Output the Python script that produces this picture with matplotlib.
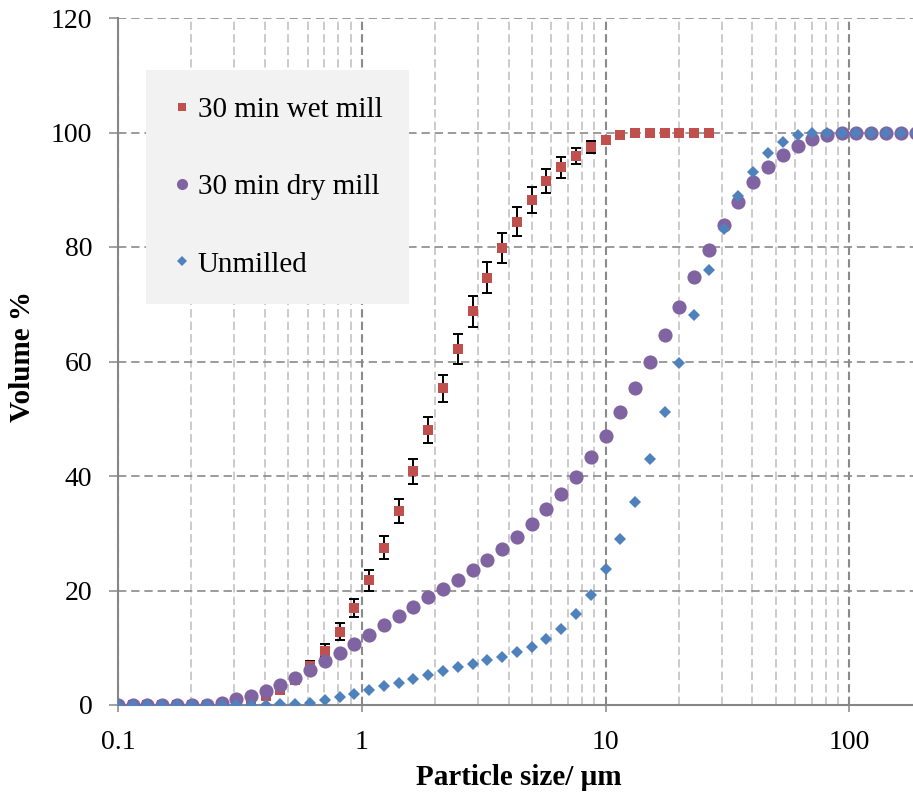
import matplotlib
matplotlib.use("Agg")
import matplotlib.pyplot as plt
from matplotlib.lines import Line2D

plt.rcParams['font.family'] = ['Liberation Serif', 'DejaVu Serif']
plt.rcParams['lines.scale_dashes'] = False

# Particle size bins (µm)
sizes = [0.1, 0.115, 0.132, 0.152, 0.175, 0.201, 0.231, 0.266, 0.305, 0.351,
         0.404, 0.464, 0.534, 0.614, 0.705, 0.811, 0.933, 1.07, 1.23, 1.42,
         1.63, 1.87, 2.15, 2.48, 2.85, 3.27, 3.76, 4.33, 4.98, 5.72,
         6.58, 7.56, 8.70, 10.0, 11.5, 13.2, 15.2, 17.5, 20.1, 23.1,
         26.6, 30.5, 35.1, 40.4, 46.4, 53.4, 61.4, 70.5, 81.1, 93.3,
         107, 123, 142, 163, 187]

# Cumulative volume % — 30 min wet mill (first 41 bins) with error
wet_mill = [0, 0, 0, 0, 0, 0, 0, 0.1, 0.5, 1.0,
            1.6, 2.6, 4.4, 6.8, 9.5, 12.8, 16.9, 21.8, 27.5, 33.9,
            40.8, 48.0, 55.3, 62.2, 68.8, 74.6, 79.8, 84.4, 88.2, 91.5,
            93.9, 95.9, 97.5, 98.7, 99.5, 99.9, 100, 100, 100, 100,
            100]
wet_err = [0, 0, 0, 0, 0, 0, 0, 0, 0, 0,
           0, 0.2, 0.5, 0.8, 1.1, 1.45, 1.6, 1.8, 1.95, 2.1,
           2.2, 2.3, 2.4, 2.6, 2.7, 2.7, 2.6, 2.5, 2.3, 2.1,
           1.9, 1.45, 1.1, 0.6, 0.3, 0.1, 0, 0, 0, 0,
           0]

# Cumulative volume % — 30 min dry mill
dry_mill = [0, 0, 0, 0, 0, 0, 0, 0.4, 1.0, 1.6,
            2.4, 3.5, 4.8, 6.2, 7.6, 9.1, 10.7, 12.3, 13.9, 15.5,
            17.2, 18.9, 20.3, 21.8, 23.6, 25.4, 27.3, 29.4, 31.6, 34.2,
            36.9, 39.8, 43.3, 47.0, 51.1, 55.3, 59.9, 64.7, 69.6, 74.7,
            79.4, 83.8, 87.8, 91.3, 94.0, 96.1, 97.7, 98.8, 99.5, 99.9,
            100, 100, 100, 100, 100]

# Cumulative volume % — unmilled
unmilled = [0, 0, 0, 0, 0, 0, 0, 0, 0, 0,
            0, 0.1, 0.2, 0.4, 0.9, 1.4, 1.9, 2.6, 3.3, 3.9,
            4.6, 5.2, 6.0, 6.6, 7.2, 7.8, 8.4, 9.2, 10.2, 11.5,
            13.3, 15.9, 19.3, 23.7, 29.0, 35.5, 43.0, 51.2, 59.7, 68.1,
            76.0, 83.1, 88.9, 93.1, 96.4, 98.3, 99.5, 99.9, 100, 100,
            100, 100, 100, 100, 100]

x_ticks = [0.1, 1, 10, 100]
x_tick_labels = ['0.1', '1', '10', '100']
y_ticks = [0, 20, 40, 60, 80, 100, 120]

RED = '#C0504D'
PURPLE = '#8064A2'
BLUE = '#4F81BD'
AXIS_GREY = '#868686'

W, H = 913, 798
fig = plt.figure(figsize=(W / 100, H / 100), dpi=100)
ax = fig.add_axes([118 / W, 93 / H, 795 / W, 687 / H])

ax.set_xscale('log')
ax.set_xlim(0.1, 182.5)
ax.set_ylim(0, 120)

# gridlines
ax.set_xticks(x_ticks)
ax.set_xticklabels(x_tick_labels)
ax.set_yticks(y_ticks)
ax.grid(True, which='minor', axis='x', color='#BDBDBD', lw=1.1,
        linestyle=(0, (6.0, 3.0)))
ax.grid(True, which='major', axis='x', color='#8A8A8A', lw=1.5,
        linestyle=(0, (6.0, 3.0)))
ax.grid(True, which='major', axis='y', color='#8A8A8A', lw=1.2,
        linestyle=(0, (6.0, 3.5)))
ax.set_axisbelow(True)

for side in ('top', 'right'):
    ax.spines[side].set_visible(False)
for side in ('left', 'bottom'):
    ax.spines[side].set_color(AXIS_GREY)
    ax.spines[side].set_linewidth(1.5)

ax.tick_params(axis='y', which='major', direction='out', length=6.5,
               width=1.1, color=AXIS_GREY, pad=12, labelsize=20)
ax.tick_params(axis='x', which='major', direction='out', length=5,
               width=1.1, color=AXIS_GREY, pad=13, labelsize=20)
ax.tick_params(axis='x', which='minor', length=0)

n_wet = len(wet_mill)
ax.errorbar(sizes[:n_wet], wet_mill, yerr=wet_err, fmt='none',
            ecolor='black', elinewidth=1.4, capsize=3.8, capthick=1.4,
            zorder=2.5)
ax.plot(sizes[:n_wet], wet_mill, linestyle='none', marker='s',
        markersize=7.4, color=RED, markeredgewidth=0, zorder=3)
ax.plot(sizes[:len(dry_mill)], dry_mill, linestyle='none', marker='o',
        markersize=10.2, color=PURPLE, markeredgewidth=0, zorder=4)
ax.plot(sizes[:len(unmilled)], unmilled, linestyle='none', marker='D',
        markersize=5.8, color=BLUE, markeredgewidth=0, zorder=5)

handles = [
    Line2D([], [], linestyle='none', marker='s', markersize=6.2, color=RED,
           markeredgewidth=0),
    Line2D([], [], linestyle='none', marker='o', markersize=8, color=PURPLE,
           markeredgewidth=0),
    Line2D([], [], linestyle='none', marker='D', markersize=4.6, color=BLUE,
           markeredgewidth=0),
]
leg = ax.legend(handles, ['30 min wet mill', '30 min dry mill', 'Unmilled'],
                loc='upper left',
                bbox_to_anchor=((146 - 118) / 795, (705 - 70) / 687),
                frameon=True, fancybox=False, framealpha=1,
                facecolor='#F2F2F2', edgecolor='none', fontsize=21,
                labelspacing=1.74, handlelength=0.6, handletextpad=0.25,
                borderpad=0.92, borderaxespad=0)
leg.get_frame().set_linewidth(0)
leg._legend_box.align = 'left'

fig.text(0.5685, (H - 785) / H, 'Particle size/ µm', ha='center',
         va='baseline', fontsize=21, fontweight='bold')
fig.text(23 / W, (H - 356) / H, 'Volume %', ha='center', va='center',
         rotation=90, fontsize=21, fontweight='bold')

fig.savefig('out.png', dpi=100)
